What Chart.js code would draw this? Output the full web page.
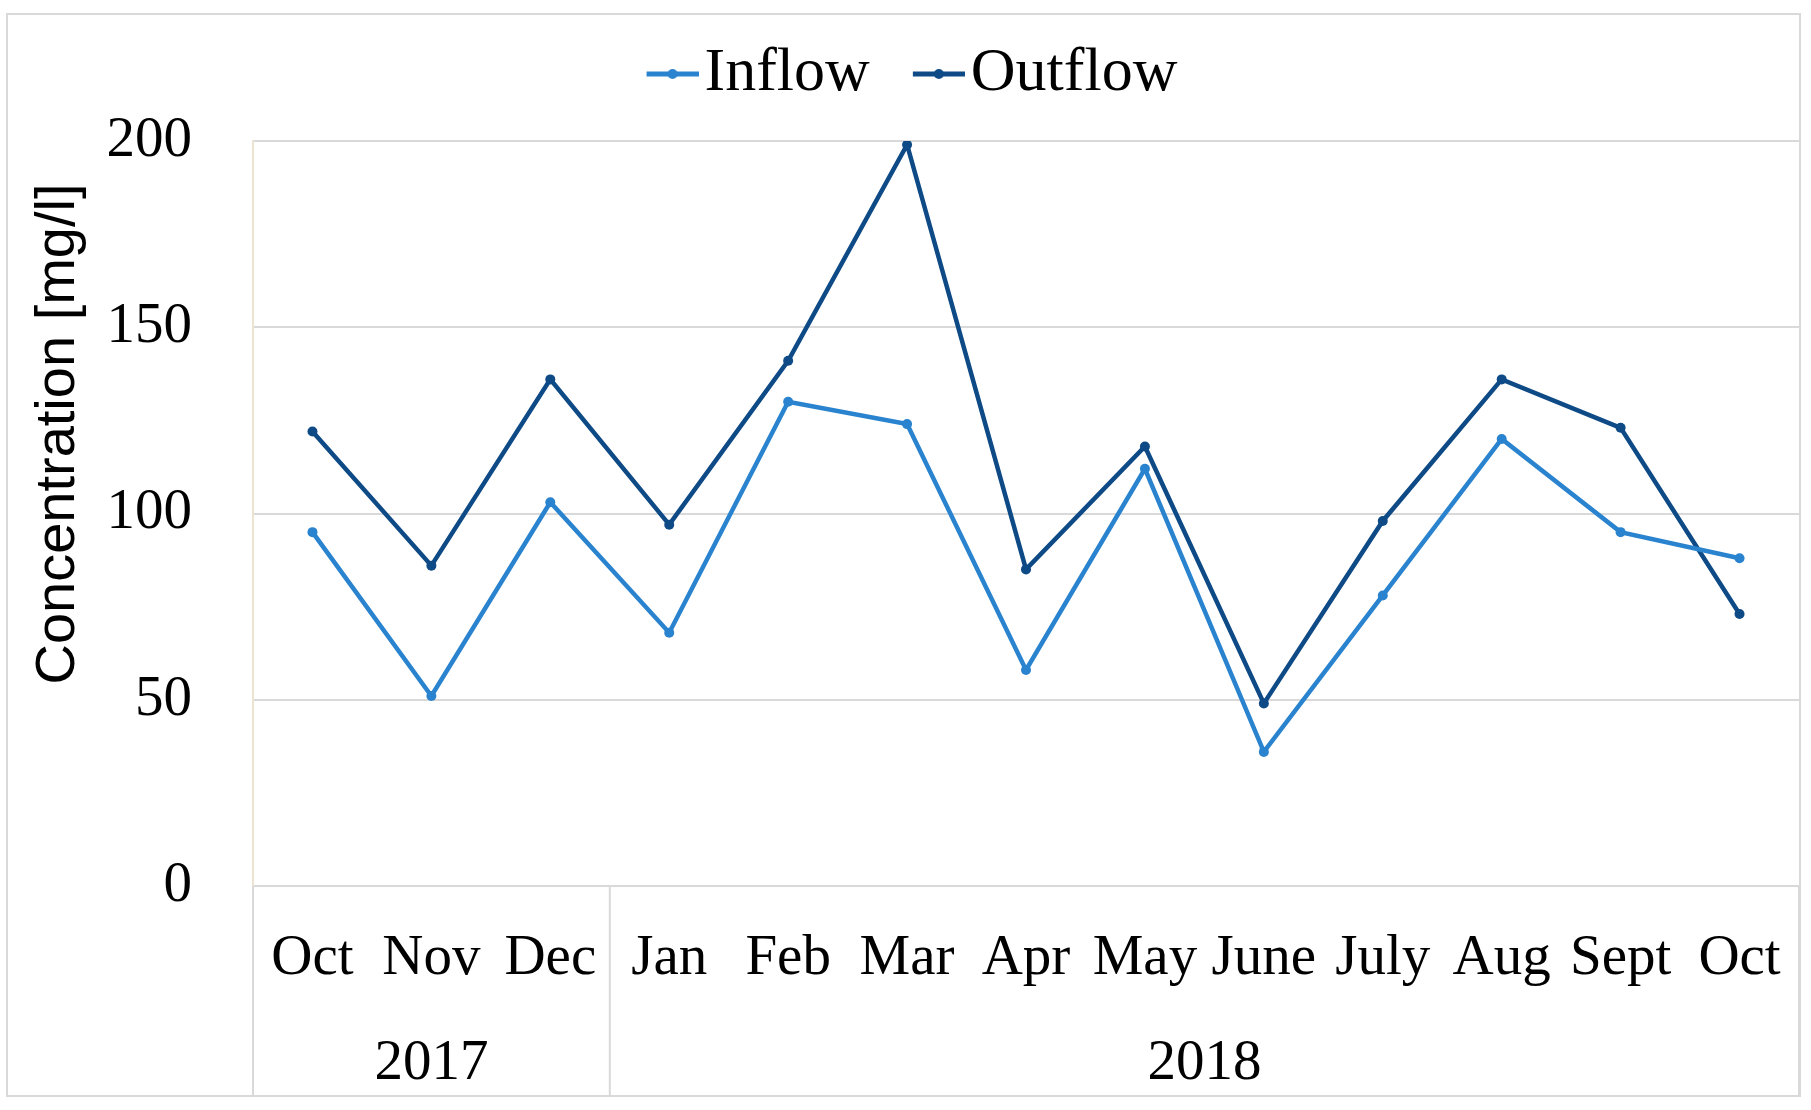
<!DOCTYPE html>
<html>
<head>
<meta charset="utf-8">
<script src="https://cdn.jsdelivr.net/npm/chart.js@4.4.1/dist/chart.umd.min.js"></script>
<style>
  html, body { margin: 0; padding: 0; background: #fff; }
  #wrap { width: 1811px; height: 1110px; position: relative; }
</style>
</head>
<body>
<div id="wrap"><canvas id="concChart"></canvas></div>
<script>
// Monthly sampling, Oct 2017 - Oct 2018
const months = ['Oct', 'Nov', 'Dec', 'Jan', 'Feb', 'Mar', 'Apr', 'May', 'June', 'July', 'Aug', 'Sept', 'Oct'];
const years = ['2017', '2018'];
const yearSpans = [[0, 2], [3, 12]]; // first and last month index of each year
const inflow = [95, 51, 103, 68, 130, 124, 58, 112, 36, 78, 120, 95, 88];
const outflow = [122, 86, 136, 97, 141, 199, 85, 118, 49, 98, 136, 123, 73];
const yTicks = [0, 50, 100, 150, 200];

const inflowColor = '#2A83CE';
const outflowColor = '#0E4A86';
const gridColor = '#d9d9d9';
const serif = '"Liberation Serif", "Times New Roman", serif';

// little line + dot swatch for the legend
function legendSwatch(color) {
    const c = document.createElement('canvas');
    c.width = 102;
    c.height = 14;
    const g = c.getContext('2d');
    g.strokeStyle = color;
    g.lineWidth = 5;
    g.beginPath();
    g.moveTo(50, 7);
    g.lineTo(102, 7);
    g.stroke();
    g.fillStyle = color;
    g.beginPath();
    g.arc(76, 7, 5, 0, Math.PI * 2);
    g.fill();
    return c;
}
const swatches = [legendSwatch(inflowColor), legendSwatch(outflowColor)];

// frame, year groups below the axis, rotated y title
const extras = {
    id: 'extras',
    afterDraw(chart) {
        const ctx = chart.ctx;
        const x = chart.scales.x;
        const area = chart.chartArea;
        const step = x.getPixelForValue(1) - x.getPixelForValue(0);
        ctx.save();

        ctx.strokeStyle = gridColor;
        ctx.lineWidth = 2;
        ctx.strokeRect(7, 14, 1793, 1082);

        // group separators under the axis
        const seps = [area.left, area.right];
        yearSpans.forEach(s => seps.push(x.getPixelForValue(s[1]) + step / 2));
        seps.forEach(px => {
            ctx.beginPath();
            ctx.moveTo(px, area.bottom);
            ctx.lineTo(px, 1096);
            ctx.stroke();
        });

        ctx.fillStyle = '#000';
        ctx.font = '57px ' + serif;
        ctx.textAlign = 'center';
        ctx.textBaseline = 'middle';
        years.forEach((yr, i) => {
            const cx = (x.getPixelForValue(yearSpans[i][0]) + x.getPixelForValue(yearSpans[i][1])) / 2;
            ctx.fillText(yr, cx, 1064);
        });

        ctx.translate(59, 434);
        ctx.rotate(-Math.PI / 2);
        ctx.font = '56px "Liberation Sans", Arial, sans-serif';
        ctx.fillText('Concentration [mg/l]', 0, 0);
        ctx.restore();
    }
};

const ctx = document.getElementById('concChart').getContext('2d');
const concChart = new Chart(ctx, {
    type: 'line',
    data: {
        labels: months,
        datasets: [
            {
                label: 'Inflow',
                data: inflow,
                borderColor: inflowColor,
                backgroundColor: inflowColor,
                borderWidth: 4.5,
                pointRadius: 5,
                pointBorderWidth: 0,
                tension: 0
            },
            {
                label: 'Outflow',
                data: outflow,
                borderColor: outflowColor,
                backgroundColor: outflowColor,
                borderWidth: 4.5,
                pointRadius: 5,
                pointBorderWidth: 0,
                tension: 0
            }
        ]
    },
    options: {
        responsive: true,
        maintainAspectRatio: false,
        animation: false,
        layout: {
            padding: { top: 25, right: 12, bottom: 0, left: 0 }
        },
        plugins: {
            tooltip: { enabled: false },
            legend: {
                position: 'top',
                labels: {
                    usePointStyle: true,
                    pointStyleWidth: 52,
                    padding: 18,
                    color: '#000',
                    font: { family: serif, size: 62 },
                    generateLabels(chart) {
                        const items = Chart.defaults.plugins.legend.labels.generateLabels(chart);
                        items.sort((a, b) => a.datasetIndex - b.datasetIndex);
                        items.forEach(it => { it.pointStyle = swatches[it.datasetIndex]; });
                        return items;
                    }
                }
            },
            // empty spacer between legend and plot
            subtitle: {
                display: true,
                text: '',
                weight: 500,
                font: { size: 1, lineHeight: 1 },
                padding: { top: 0, bottom: 25 }
            }
        },
        scales: {
            x: {
                offset: true,
                grid: { display: false, drawTicks: false },
                border: { color: gridColor, width: 2 },
                ticks: {
                    autoSkip: false,
                    maxRotation: 0,
                    minRotation: 0,
                    padding: 0,
                    color: '#000',
                    font: { family: serif, size: 57, lineHeight: 2.56 }
                },
                afterFit(scale) { scale.height = 224; }
            },
            y: {
                min: 0,
                max: 200,
                afterBuildTicks(scale) {
                    scale.ticks = yTicks.map(v => ({ value: v }));
                },
                grid: { color: gridColor, lineWidth: 2, drawTicks: false },
                border: { display: true, color: '#ece3d2', width: 2 },
                ticks: {
                    padding: 61,
                    color: '#000',
                    font: { family: serif, size: 57 }
                },
                afterFit(scale) { scale.width = 253; }
            }
        }
    },
    plugins: [extras]
});
</script>
</body>
</html>
